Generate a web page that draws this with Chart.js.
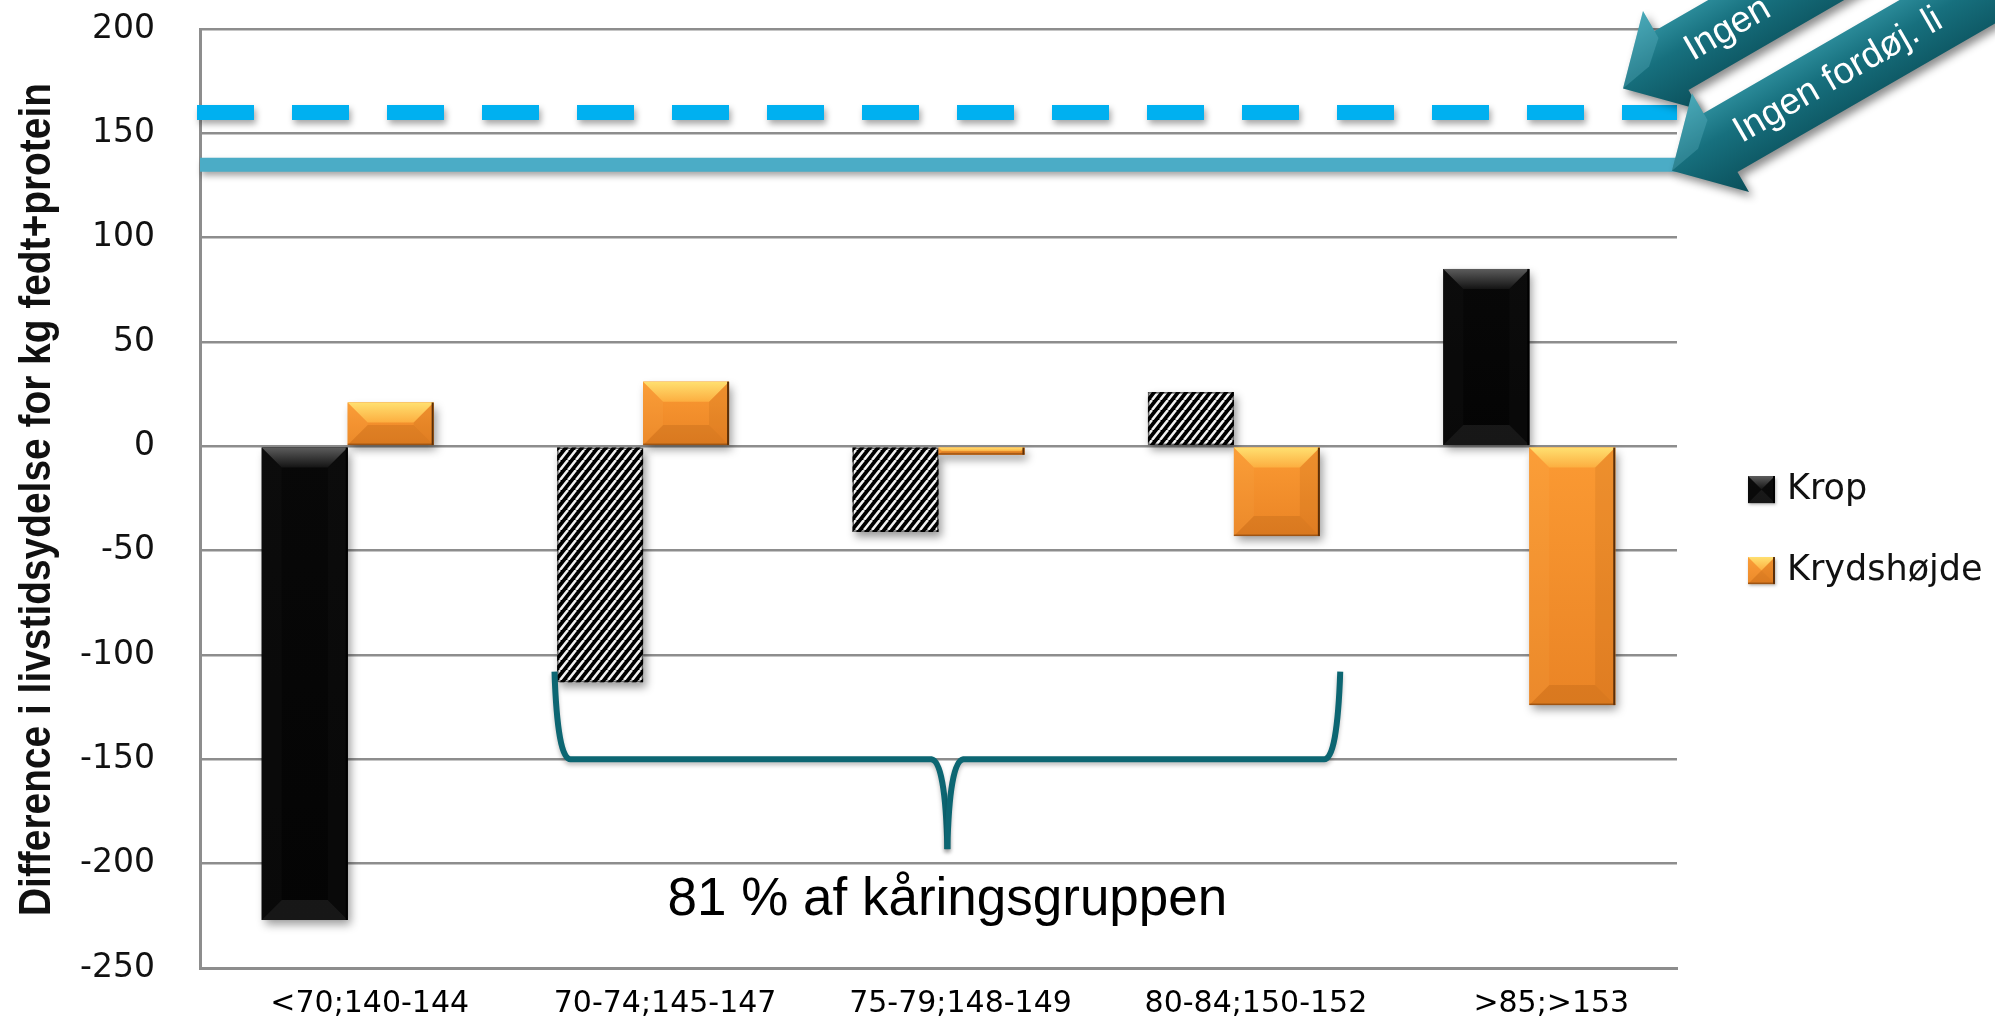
<!DOCTYPE html>
<html>
<head>
<meta charset="utf-8">
<script src="https://cdn.jsdelivr.net/npm/chart.js@4.4.0/dist/chart.umd.min.js"></script>
<style>
  html, body { margin: 0; padding: 0; background: #fff; }
  #wrap { width: 1995px; height: 1020px; }
</style>
</head>
<body>
<div id="wrap"><canvas id="chart" width="1995" height="1020"></canvas></div>
<script>
/* Krop / Krydshøjde — difference i livstidsydelse */

// ── Data ────────────────────────────────────────────────────────────────────
const categories   = ['<70;140-144', '70-74;145-147', '75-79;148-149', '80-84;150-152', '>85;>153'];
const kropValues   = [-227, -113, -41, 26, 85];
const krydsValues  = [21, 31, -4, -43, -124];
const kropHatched  = [false, true, true, true, false];
const seriesNames  = ['Krop', 'Krydshøjde'];
const yMin = -250, yMax = 200, yStep = 50;
const refDashed    = 160;   // stiplet linje
const refSolid     = 135;   // fuld linje
const braceFrom    = 1, braceTo = 3;          // kategorier under klammen
const braceLevels  = [-108, -150, -193];      // top, vandret, spids
const braceText    = '81 % af kåringsgruppen';
const braceTextAt  = -224.5;
const arrowTexts   = ['Ingen', 'Ingen fordøj. li'];

const yTitle = 'Difference i livstidsydelse for kg fedt+protein';

// ── Helpers ─────────────────────────────────────────────────────────────────
function hatchPattern(ctx) {
  const w = 8, h = 10;
  const c = document.createElement('canvas');
  c.width = w; c.height = h;
  const g = c.getContext('2d');
  g.fillStyle = '#000';
  g.fillRect(0, 0, w, h);
  g.strokeStyle = '#f2f2f2';
  g.lineWidth = 2.6;
  g.beginPath();
  for (let k = -1; k <= 1; k++) {
    g.moveTo(k * w, h);
    g.lineTo(k * w + w, 0);
  }
  g.stroke();
  return ctx.createPattern(c, 'repeat');
}

function poly(ctx, pts, fill) {
  ctx.beginPath();
  ctx.moveTo(pts[0][0], pts[0][1]);
  for (let i = 1; i < pts.length; i++) ctx.lineTo(pts[i][0], pts[i][1]);
  ctx.closePath();
  ctx.fillStyle = fill;
  ctx.fill();
}

// bevel look of the Excel bars
function bevel(ctx, l, t, w, h, kind) {
  const r = l + w, bt = t + h;
  const b = Math.min(20, h / 2, w / 2);
  if (kind === 'hatch') {
    ctx.strokeStyle = 'rgba(0,0,0,0.6)';
    ctx.lineWidth = 1.5;
    ctx.strokeRect(l + 0.75, t + 0.75, w - 1.5, h - 1.5);
    return;
  }
  const orange = kind === 'orange';
  const face = ctx.createLinearGradient(0, t, 0, bt);
  face.addColorStop(0, orange ? '#fb9a33' : '#080808');
  face.addColorStop(1, orange ? '#ea8425' : '#040404');
  ctx.fillStyle = face;
  ctx.fillRect(l, t, w, h);

  const top = ctx.createLinearGradient(0, t, 0, t + b);
  top.addColorStop(0, orange ? '#ffe070' : '#5c5c5c');
  top.addColorStop(1, orange ? '#fcae40' : '#141414');
  poly(ctx, [[l, t], [r, t], [r - b, t + b], [l + b, t + b]], top);
  poly(ctx, [[l, bt], [r, bt], [r - b, bt - b], [l + b, bt - b]], orange ? 'rgba(160,80,15,0.22)' : 'rgba(70,70,70,0.3)');
  poly(ctx, [[r, t], [r, bt], [r - b, bt - b], [r - b, t + b]], orange ? 'rgba(150,70,5,0.12)' : 'rgba(25,25,25,0.25)');
  poly(ctx, [[l, t], [l, bt], [l + b, bt - b], [l + b, t + b]], orange ? 'rgba(255,200,120,0.08)' : 'rgba(30,30,30,0.2)');
  ctx.fillStyle = orange ? '#5c2f08' : '#000';
  ctx.fillRect(r - 2, t, 2, h);
  if (orange) {
    ctx.fillStyle = 'rgba(110,55,10,0.55)';
    ctx.fillRect(l, bt - 1.5, w, 1.5);
  }
}

function drawArrow(ctx, tx, ty, angle, text) {
  const hl = 56, hw = 57, bw = 34, len = 700;
  ctx.save();
  ctx.translate(tx, ty);
  ctx.rotate(angle);
  ctx.shadowColor = 'rgba(0,0,0,0.45)';
  ctx.shadowBlur = 8;
  ctx.shadowOffsetX = 4;
  ctx.shadowOffsetY = 5;
  const g = ctx.createLinearGradient(0, -hw, 0, hw);
  g.addColorStop(0, '#3a9fae');
  g.addColorStop(0.45, '#17707e');
  g.addColorStop(1, '#0a4e59');
  poly(ctx, [[0, 0], [hl, -hw], [hl, -bw], [len, -bw], [len, bw], [hl, bw], [hl, hw]], g);
  ctx.shadowColor = 'transparent';
  // facet highlight on the head
  poly(ctx, [[0, 0], [hl, -hw], [hl, -bw + 8], [hl * 0.6, -6]], 'rgba(120,200,215,0.25)');
  ctx.fillStyle = '#fff';
  ctx.font = '37px "Liberation Sans", Arial, sans-serif';
  ctx.textBaseline = 'middle';
  ctx.textAlign = 'left';
  ctx.fillText(text, hl + 18, 1);
  ctx.restore();
}

// ── Plugins ─────────────────────────────────────────────────────────────────
const decor = {
  id: 'decor',
  beforeDatasetsDraw(chart) {
    const { ctx, chartArea: a, scales: { y } } = chart;
    ctx.save();
    ctx.shadowColor = 'rgba(0,0,0,0.35)';
    ctx.shadowBlur = 6;
    ctx.shadowOffsetX = 2;
    ctx.shadowOffsetY = 4;
    ctx.lineCap = 'butt';
    // solid line
    ctx.strokeStyle = '#4bacc6';
    ctx.lineWidth = 14;
    ctx.beginPath();
    ctx.moveTo(a.left, y.getPixelForValue(refSolid));
    ctx.lineTo(a.right, y.getPixelForValue(refSolid));
    ctx.stroke();
    // dashed line
    ctx.strokeStyle = '#00b0f0';
    ctx.lineWidth = 15;
    ctx.setLineDash([57, 38]);
    ctx.beginPath();
    ctx.moveTo(a.left - 3, y.getPixelForValue(refDashed));
    ctx.lineTo(a.right, y.getPixelForValue(refDashed));
    ctx.stroke();
    ctx.restore();
    // bar shadows
    ctx.save();
    ctx.shadowColor = 'rgba(0,0,0,0.4)';
    ctx.shadowBlur = 9;
    ctx.shadowOffsetX = 3;
    ctx.shadowOffsetY = 5;
  },
  afterDatasetsDraw(chart) {
    const { ctx } = chart;
    ctx.restore();
    chart.data.datasets.forEach((ds, di) => {
      chart.getDatasetMeta(di).data.forEach((bar, i) => {
        const l = bar.x - bar.width / 2;
        const t = Math.min(bar.y, bar.base);
        const h = Math.abs(bar.base - bar.y);
        const kind = di === 1 ? 'orange' : (kropHatched[i] ? 'hatch' : 'black');
        bevel(ctx, l, t, bar.width, h, kind);
      });
    });
  },
  afterDraw(chart) {
    const { ctx, chartArea: a, scales: { x, y } } = chart;
    const step = x.getPixelForValue(1) - x.getPixelForValue(0);

    // y axis title (condensed bold, like Calibri)
    ctx.save();
    ctx.translate(38, (a.top + a.bottom) / 2 + 1);
    ctx.rotate(-Math.PI / 2);
    ctx.font = 'bold 44px "Liberation Sans", Arial, sans-serif';
    const tw = ctx.measureText(yTitle).width;
    ctx.scale(833 / tw, 1);
    ctx.fillStyle = '#111';
    ctx.textAlign = 'center';
    ctx.textBaseline = 'middle';
    ctx.fillText(yTitle, 0, 0);
    ctx.restore();

    // brace
    const L = x.getPixelForValue(braceFrom) - 0.30 * step;
    const R = x.getPixelForValue(braceTo) + 0.36 * step;
    const C = (L + R) / 2;
    const yT = y.getPixelForValue(braceLevels[0]);
    const yM = y.getPixelForValue(braceLevels[1]);
    const yB = y.getPixelForValue(braceLevels[2]);
    ctx.save();
    ctx.strokeStyle = '#0c6672';
    ctx.lineWidth = 6;
    ctx.lineJoin = 'round';
    ctx.shadowColor = 'rgba(0,0,0,0.25)';
    ctx.shadowBlur = 4;
    ctx.shadowOffsetY = 3;
    [[L, 1], [R, -1]].forEach(([e, s]) => {
      ctx.beginPath();
      ctx.moveTo(e, yT);
      ctx.quadraticCurveTo(e + s * 3, yM, e + s * 16, yM);
      ctx.lineTo(C - s * 16, yM);
      ctx.quadraticCurveTo(C - s * 2, yM + 2, C, yB);
      ctx.stroke();
    });
    ctx.restore();

    ctx.save();
    ctx.fillStyle = '#000';
    ctx.font = '53px "Liberation Sans", Arial, sans-serif';
    ctx.textAlign = 'center';
    ctx.textBaseline = 'alphabetic';
    ctx.fillText(braceText, C, y.getPixelForValue(braceTextAt));
    ctx.restore();

    // legend
    ctx.save();
    const lx = a.right + 71;
    const ly0 = y.getPixelForValue(-20) + 1;
    const ly = [ly0, ly0 + 81];
    seriesNames.forEach((name, i) => {
      ctx.save();
      ctx.shadowColor = 'rgba(0,0,0,0.3)';
      ctx.shadowBlur = 3;
      ctx.shadowOffsetX = 1;
      ctx.shadowOffsetY = 2;
      ctx.fillStyle = i ? '#f0902c' : '#050505';
      ctx.fillRect(lx, ly[i] - 13, 27, 27);
      ctx.restore();
      bevel(ctx, lx, ly[i] - 13, 27, 27, i ? 'orange' : 'black');
      ctx.fillStyle = '#111';
      ctx.font = '35px "DejaVu Sans", sans-serif';
      ctx.textBaseline = 'middle';
      ctx.textAlign = 'left';
      ctx.fillText(name, lx + 39, ly[i] + 1);
    });
    ctx.restore();

    // arrows
    drawArrow(ctx, a.right - 54, y.getPixelForValue(refDashed) - 24, -Math.PI / 6, arrowTexts[0]);
    drawArrow(ctx, a.right - 5, y.getPixelForValue(refSolid) + 6, -Math.PI / 6, arrowTexts[1]);
  }
};

// ── Chart ───────────────────────────────────────────────────────────────────
const canvas = document.getElementById('chart');
const ctx2d = canvas.getContext('2d');
const hatch = hatchPattern(ctx2d);

new Chart(canvas, {
  type: 'bar',
  data: {
    labels: categories,
    datasets: [
      {
        label: seriesNames[0],
        data: kropValues,
        backgroundColor: kropHatched.map(h => h ? hatch : '#050505'),
        borderWidth: 0,
        categoryPercentage: 0.582,
        barPercentage: 1
      },
      {
        label: seriesNames[1],
        data: krydsValues,
        backgroundColor: '#f0902c',
        borderWidth: 0,
        categoryPercentage: 0.582,
        barPercentage: 1
      }
    ]
  },
  options: {
    responsive: false,
    animation: false,
    devicePixelRatio: 1,
    layout: { padding: { top: 29, right: 318, bottom: 0, left: 0 } },
    plugins: { legend: { display: false }, tooltip: { enabled: false } },
    scales: {
      x: {
        afterFit(s) { s.height = 52; },
        grid: { display: false },
        border: { display: true, color: '#8d8d8d', width: 3 },
        ticks: {
          color: '#000',
          padding: 10,
          labelOffset: 22,
          maxRotation: 0,
          font: { family: '"DejaVu Sans", sans-serif', size: 30 }
        }
      },
      y: {
        min: yMin,
        max: yMax,
        afterFit(s) { s.width = 200; s.paddingTop = 20; s.paddingBottom = 20; },
        grid: { color: '#8d8d8d', lineWidth: 2.5, drawTicks: false },
        border: { display: true, color: '#8d8d8d', width: 3 },
        ticks: {
          stepSize: yStep,
          color: '#111',
          padding: 45,
          font: { family: '"DejaVu Sans", sans-serif', size: 33 }
        }
      }
    }
  },
  plugins: [decor]
});
</script>
</body>
</html>
